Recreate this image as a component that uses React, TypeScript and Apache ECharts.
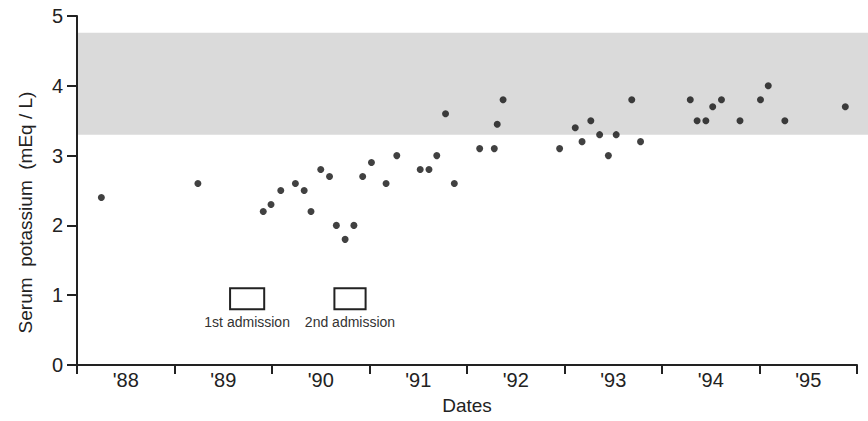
import React, { useEffect, useRef } from 'react';
import * as echarts from 'echarts';

const yearLabels = ["'88", "'89", "'90", "'91", "'92", "'93", "'94", "'95"];
const yearStart = 1988;
const yearEnd = 1996;

const dates = [
  1988.25, 1989.24, 1989.91, 1989.99, 1990.09, 1990.24, 1990.33, 1990.40, 1990.50, 1990.59,
  1990.66, 1990.75, 1990.84, 1990.93, 1991.02, 1991.17, 1991.28, 1991.52, 1991.61, 1991.69,
  1991.78, 1991.87, 1992.13, 1992.28, 1992.31, 1992.37, 1992.95, 1993.11, 1993.18, 1993.27,
  1993.36, 1993.45, 1993.53, 1993.69, 1993.78, 1994.29, 1994.36, 1994.45, 1994.52, 1994.61,
  1994.80, 1995.01, 1995.09, 1995.26, 1995.88,
];
const potassium = [
  2.4, 2.6, 2.2, 2.3, 2.5, 2.6, 2.5, 2.2, 2.8, 2.7,
  2.0, 1.8, 2.0, 2.7, 2.9, 2.6, 3.0, 2.8, 2.8, 3.0,
  3.6, 2.6, 3.1, 3.1, 3.45, 3.8, 3.1, 3.4, 3.2, 3.5,
  3.3, 3.0, 3.3, 3.8, 3.2, 3.8, 3.5, 3.5, 3.7, 3.8,
  3.5, 3.8, 4.0, 3.5, 3.7,
];

const normalLow = 3.3;
const normalHigh = 4.76;

const admissionStart = [1989.57, 1990.64];
const admissionEnd = [1989.92, 1990.96];
const admissionLow = [0.8, 0.8];
const admissionHigh = [1.1, 1.1];
const admissionLabels = ['1st admission', '2nd admission'];

const yTicks = [0, 1, 2, 3, 4, 5];

const FONT = '"Liberation Sans", Arial, Helvetica, sans-serif';
const INK = '#222';

export default function App() {
  const ref = useRef<HTMLDivElement>(null);

  useEffect(() => {
    document.body.style.margin = '0';
    if (!ref.current) return;
    const chart = echarts.init(ref.current, null, { renderer: 'svg' });

    const points = dates.map((d, i) => [d, potassium[i]]);
    const admissions = admissionStart.map((s, i) => [s, admissionEnd[i], admissionLow[i], admissionHigh[i]]);

    chart.setOption({
      animation: false,
      backgroundColor: '#fff',
      grid: { left: 77, right: 11, top: 16, bottom: 56, containLabel: false },
      xAxis: [
        {
          type: 'category',
          data: yearLabels,
          boundaryGap: true,
          position: 'bottom',
          name: 'Dates',
          nameLocation: 'middle',
          nameGap: 31,
          nameTextStyle: { fontFamily: FONT, fontSize: 19, color: INK },
          axisLine: { show: true, lineStyle: { color: INK, width: 2 } },
          axisTick: { show: true, length: 9, lineStyle: { color: INK, width: 2 } },
          axisLabel: { fontFamily: FONT, fontSize: 20, color: INK, margin: 5 },
          splitLine: { show: false },
        },
        {
          type: 'value',
          min: yearStart,
          max: yearEnd,
          show: false,
          position: 'bottom',
          splitLine: { show: false },
        },
      ],
      yAxis: {
        type: 'value',
        min: yTicks[0],
        max: yTicks[yTicks.length - 1],
        interval: 1,
        axisLine: { show: true, lineStyle: { color: INK, width: 2 } },
        axisTick: { show: true, length: 10, lineStyle: { color: INK, width: 2 } },
        axisLabel: { fontFamily: FONT, fontSize: 20, color: INK, margin: 14 },
        splitLine: { show: false },
      },
      series: [
        {
          type: 'scatter',
          xAxisIndex: 1,
          yAxisIndex: 0,
          data: points,
          symbol: 'circle',
          symbolSize: 7,
          itemStyle: { color: '#111' },
          z: 5,
        },
        {
          type: 'custom',
          xAxisIndex: 1,
          yAxisIndex: 0,
          data: admissions,
          encode: { x: [0, 1], y: [2, 3] },
          renderItem: (params: any, api: any) => {
            const p1 = api.coord([api.value(0), api.value(3)]);
            const p2 = api.coord([api.value(1), api.value(2)]);
            return {
              type: 'group',
              children: [
                {
                  type: 'rect',
                  shape: { x: p1[0], y: p1[1], width: p2[0] - p1[0], height: p2[1] - p1[1] },
                  style: { fill: '#fff', stroke: INK, lineWidth: 2 },
                },
                {
                  type: 'text',
                  style: {
                    text: admissionLabels[params.dataIndex],
                    x: (p1[0] + p2[0]) / 2,
                    y: p2[1] + 6,
                    align: 'center',
                    textAlign: 'center',
                    verticalAlign: 'top',
                    textVerticalAlign: 'top',
                    fontFamily: FONT,
                    fontSize: 14,
                    fill: '#333',
                  },
                },
              ],
            };
          },
          z: 4,
        },
      ],
    });

    const xLeft = chart.convertToPixel({ xAxisIndex: 1 }, yearStart) as number;
    const yTop = chart.convertToPixel({ yAxisIndex: 0 }, normalHigh) as number;
    const yBot = chart.convertToPixel({ yAxisIndex: 0 }, normalLow) as number;
    const yMid = ((chart.convertToPixel({ yAxisIndex: 0 }, yTicks[0]) as number) +
      (chart.convertToPixel({ yAxisIndex: 0 }, yTicks[yTicks.length - 1]) as number)) / 2;

    chart.setOption({
      graphic: [
        {
          type: 'rect',
          z: -10,
          silent: true,
          shape: { x: xLeft, y: yTop, width: chart.getWidth() - xLeft, height: yBot - yTop },
          style: { fill: '#dadada' },
        },
        {
          type: 'text',
          x: 25,
          y: yMid + 22,
          rotation: Math.PI / 2,
          style: {
            text: 'Serum  potassium  (mEq / L)',
            align: 'center',
            textAlign: 'center',
            verticalAlign: 'middle',
            textVerticalAlign: 'middle',
            fontFamily: FONT,
            fontSize: 19,
            fill: INK,
          },
        },
      ],
    });

    return () => chart.dispose();
  }, []);

  return <div ref={ref} style={{ position: 'fixed', left: 0, top: 0, width: 868, height: 421 }} />;
}
